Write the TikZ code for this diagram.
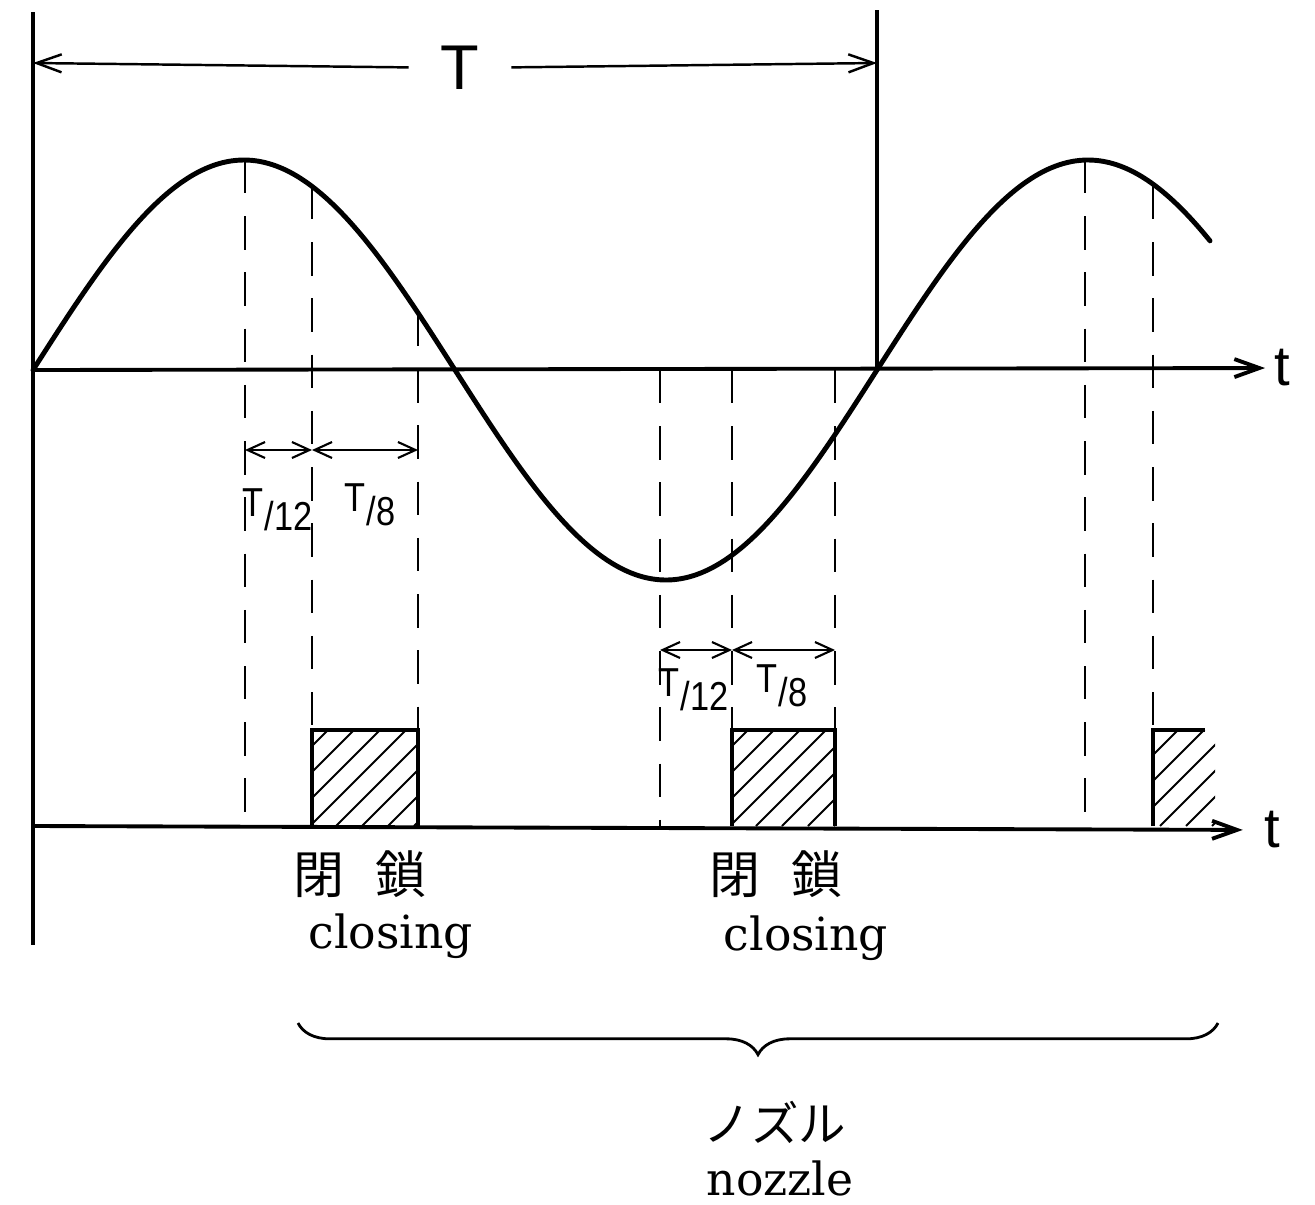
\documentclass[tikz,border=0pt]{standalone}
\usepackage{fontspec}
\setmainfont{DejaVu Serif}
\setsansfont{Liberation Sans}
\newfontfamily\jpfont{Noto Sans CJK JP}
\usetikzlibrary{arrows.meta,positioning,calc,decorations.pathreplacing}
\newcommand{\tfrac}[2]{\scalebox{0.85}[1]{\raisebox{.36em}{#1}\kern.02em/\kern.02em#2}}
\tikzset{
  frame/.style={line width=2.6pt},
  wave/.style={line width=2.8pt,line cap=round},
  guide/.style={line width=1.5pt,dash pattern=on 19pt off 13pt},
  dim/.style={line width=1.2pt,{Straight Barb[length=3.5mm,width=3.2mm]}-{Straight Barb[length=3.5mm,width=3.2mm]}},
  period/.style={line width=1.4pt,-{Straight Barb[length=5mm,width=3.6mm]}},
  taxis/.style={line width=2.2pt,-{Straight Barb[length=5mm,width=3.6mm]}},
  shut/.style={line width=2.4pt},
  hatch/.style={line width=1.1pt},
  lbl/.style={font=\sffamily\fontsize{23}{23}\selectfont,inner sep=0pt},
  tlbl/.style={font=\sffamily\fontsize{32}{32}\selectfont,inner sep=4pt},
  jp/.style={font=\jpfont\fontsize{29}{29}\selectfont,inner sep=0pt},
  en/.style={font=\fontsize{26}{26}\selectfont,inner sep=0pt}
}
\begin{document}
\begin{tikzpicture}[x=0.02cm,y=-0.02cm]
  \useasboundingbox (0,0) rectangle (1315,1204);
  % Frame lines
  \coordinate (topL) at (33,12);
  \coordinate (botL) at (33,945);
  \coordinate (topR) at (877,10);
  \coordinate (zeroR) at (877,370);
  \draw[frame] (topL) -- (botL);
  \draw[frame] (topR) -- (zeroR);
  % Period T
  \coordinate (Tleft) at (33,63);
  \coordinate (Tright) at (877,63);
  \node[font=\sffamily\fontsize{36}{36}\selectfont,inner xsep=18pt] (Tlbl) at (460,68) {T};
  \draw[period] (Tlbl) -- (Tleft);
  \draw[period] (Tlbl) -- (Tright);
  % Time axes
  \coordinate (O) at (33,370);
  \coordinate (O2) at (33,826);
  \node[tlbl,inner sep=5pt] (t1) at (1282,368) {t};
  \node[tlbl,inner sep=12pt] (t2) at (1272,830) {t};
  \draw[taxis] (O) -- (t1);
  \draw[taxis] (O2) -- (t2);
  % Sine wave
  \draw[wave] plot[domain=33:1210,samples=200,smooth] (\x,{370-210*sin(0.42654*(\x-33))});
  % Guide lines
  \draw[guide] (245,160) -- (245,826);
  \draw[guide] (312,186) -- (312,730);
  \draw[guide] (418,313) -- (418,730);
  \draw[guide] (660,370) -- (660,826);
  \draw[guide] (732,370) -- (732,730);
  \draw[guide] (835,370) -- (835,730);
  \draw[guide] (1085,160) -- (1085,826);
  \draw[guide] (1153,186) -- (1153,730);
  % Dimensions T/12, T/8
  \coordinate (a1) at (245,450);
  \coordinate (a2) at (312,450);
  \coordinate (a3) at (418,450);
  \coordinate (b1) at (660,650);
  \coordinate (b2) at (732,650);
  \coordinate (b3) at (835,650);
  \draw[dim] (a1) -- (a2);
  \draw[dim] (a2) -- (a3);
  \draw[dim] (b1) -- (b2);
  \draw[dim] (b2) -- (b3);
  \node[lbl] (fa1) at (278,510) {\tfrac{T}{12}};
  \node[lbl] (fa2) at (370,505) {\tfrac{T}{8}};
  \node[lbl] (fb1) at (694,690) {\tfrac{T}{12}};
  \node[lbl] (fb2) at (782,686) {\tfrac{T}{8}};
  % Closing periods
  \begin{scope}
    \clip (312,730) rectangle (418,826);
    \foreach \a in {180,206,...,440} \draw[hatch] (\a,826) -- ++(110,-110);
  \end{scope}
  \draw[shut] (312,826) |- (418,730) -- (418,826);
  \begin{scope}
    \clip (732,730) rectangle (835,826);
    \foreach \a in {600,626,...,860} \draw[hatch] (\a,826) -- ++(110,-110);
  \end{scope}
  \draw[shut] (732,826) |- (835,730) -- (835,826);
  \begin{scope}
    \clip (1153,730) rectangle (1215,826);
    \foreach \a in {1030,1056,...,1240} \draw[hatch] (\a,826) -- ++(110,-110);
  \end{scope}
  \draw[shut] (1153,826) |- (1205,730);
  % Labels
  \node[jp] (c1) at (360,874) {閉\hspace{0.62em}鎖};
  \node[en] (e1) at (391,936) {closing};
  \node[jp] (c2) at (776,874) {閉\hspace{0.62em}鎖};
  \node[en] (e2) at (806,938) {closing};
  % Nozzle brace
  \coordinate (br1) at (298,1023);
  \coordinate (br2) at (1218,1023);
  \draw[line width=1.6pt,decorate,decoration={brace,mirror,amplitude=18pt}] (br1) -- (br2);
  \node[jp,font=\jpfont\fontsize{27}{27}\selectfont] (nz) at (775,1122) {ノズル};
  \node[en] (nze) at (780,1178) {nozzle};
\end{tikzpicture}
\end{document}
